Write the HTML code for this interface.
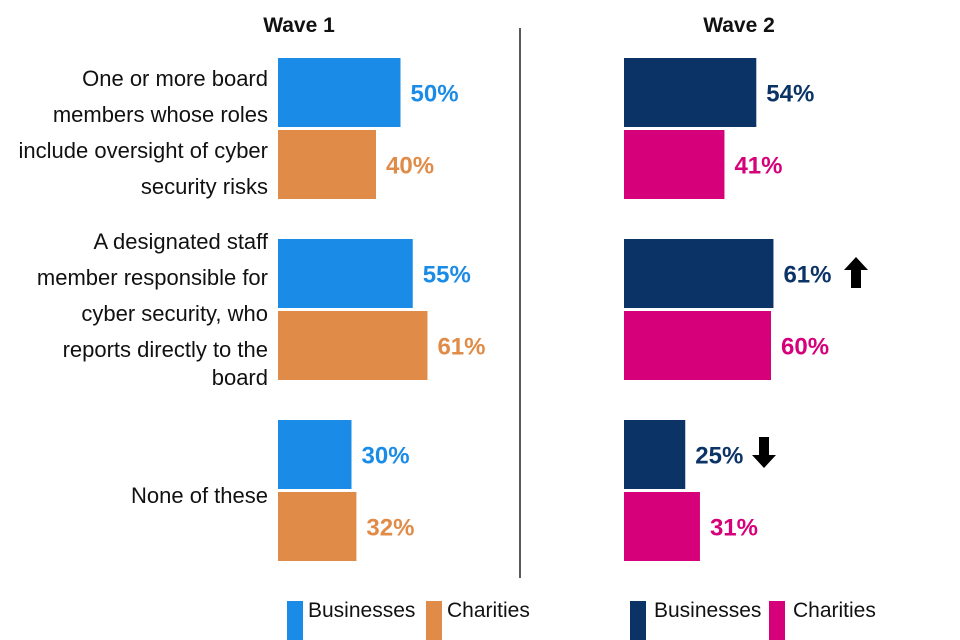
<!DOCTYPE html>
<html><head><meta charset="utf-8"><style>
html,body{margin:0;padding:0;background:#fff;}
svg{display:block;font-family:"Liberation Sans",Arial,sans-serif;}
</style></head><body>
<svg id="c" width="960" height="640" viewBox="0 0 960 640">
<text x="299" y="32" text-anchor="middle" font-size="21" font-weight="bold" fill="#111">Wave 1</text>
<text x="739" y="32" text-anchor="middle" font-size="21" font-weight="bold" fill="#111">Wave 2</text>
<line x1="520" y1="28" x2="520" y2="578" stroke="#222" stroke-width="1.5"/>
<g id="cats" font-size="22" fill="#111" text-anchor="end">
<text x="268" y="86">One or more board</text>
<text x="268" y="122">members whose roles</text>
<text x="268" y="158">include oversight of cyber</text>
<text x="268" y="194">security risks</text>
<text x="268" y="249">A designated staff</text>
<text x="268" y="285">member responsible for</text>
<text x="268" y="321">cyber security, who</text>
<text x="268" y="357">reports directly to the</text>
<text x="268" y="385">board</text>
<text x="268" y="503">None of these</text>
</g>
<g id="bars"></g>
<g font-size="21" fill="#111">
<rect x="287" y="601" width="16" height="39" fill="#1a8be6"/>
<text x="308" y="617">Businesses</text>
<rect x="426" y="601" width="16" height="39" fill="#e08b47"/>
<text x="447" y="617">Charities</text>
<rect x="630" y="601" width="16" height="39" fill="#0b3366"/>
<text x="654" y="617">Businesses</text>
<rect x="769" y="601" width="16" height="39" fill="#d5007a"/>
<text x="793" y="617">Charities</text>
</g>
<path d="M856 257 L868 270 L861 270 L861 288 L851 288 L851 270 L844 270 Z" fill="#000"/>
<path d="M764 468 L776 455 L769 455 L769 437 L759 437 L759 455 L752 455 Z" fill="#000"/>
</svg>
<script>
const categories = ["board-oversight","designated-staff","none"];
const wave1Businesses = [50,55,30];
const wave1Charities = [40,61,32];
const wave2Businesses = [54,61,25];
const wave2Charities = [41,60,31];
const groupTop = [58,239,420];
const NS="http://www.w3.org/2000/svg";
const g=document.getElementById('bars');
const scale=2.45, barH=69, gapB=3;
function xLen(v){return v*scale;}
function bar(x0,y,v,fill,name){
  const r=document.createElementNS(NS,'rect');
  r.setAttribute('x',x0);r.setAttribute('y',y);
  r.setAttribute('width',xLen(v));r.setAttribute('height',barH);
  r.setAttribute('fill',fill);
  
  
  g.appendChild(r);
  const t=document.createElementNS(NS,'text');
  t.setAttribute('x',x0+xLen(v)+10);t.setAttribute('y',y+barH/2+9);
  t.setAttribute('font-size','24');t.setAttribute('font-weight','bold');
  t.setAttribute('fill',fill);
  t.textContent=v+'%';
  
  
  g.appendChild(t);
}
categories.forEach((c,i)=>{
  const y=groupTop[i];
  bar(278,y,wave1Businesses[i],'#1a8be6','bar-w1-businesses-'+c);
  bar(278,y+barH+gapB,wave1Charities[i],'#e08b47','bar-w1-charities-'+c);
  bar(624,y,wave2Businesses[i],'#0b3366','bar-w2-businesses-'+c);
  bar(624,y+barH+gapB,wave2Charities[i],'#d5007a','bar-w2-charities-'+c);
});
</script>
</body></html>
